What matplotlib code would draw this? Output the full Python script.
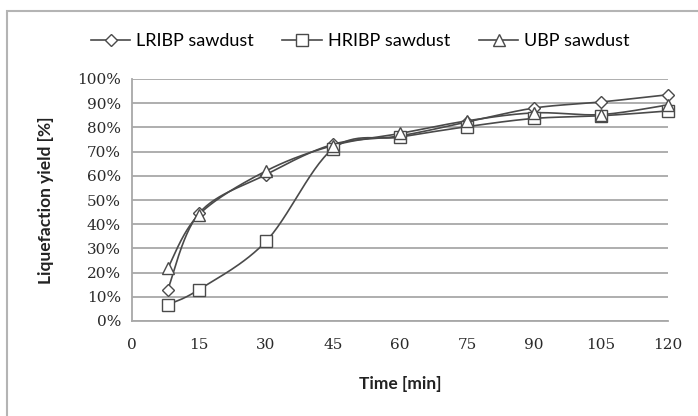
import numpy as np
import matplotlib
matplotlib.use("Agg")
import matplotlib.pyplot as plt
from matplotlib.patches import Rectangle

# data
time_min = [8, 15, 30, 45, 60, 75, 90, 105, 120]
lribp = [12.9, 44.5, 60.5, 73.0, 76.5, 82.2, 88.0, 90.5, 93.5]
hribp = [6.7, 13.0, 32.9, 71.2, 76.0, 80.3, 83.7, 84.8, 86.8]
ubp = [21.8, 44.0, 62.0, 72.5, 77.5, 82.7, 86.0, 85.3, 89.3]
series_names = ["LRIBP sawdust", "HRIBP sawdust", "UBP sawdust"]
series_markers = ["D", "s", "^"]
x_ticks = [0, 15, 30, 45, 60, 75, 90, 105, 120]
y_ticks = [0, 10, 20, 30, 40, 50, 60, 70, 80, 90, 100]


def smooth(xs, ys, sx, sy, n=30):
    # Excel-like smoothed line: Catmull-Rom bezier in screen-ish space
    p = np.column_stack([np.array(xs) * sx, np.array(ys) * sy])
    out = []
    for i in range(len(p) - 1):
        p0 = p[i - 1] if i > 0 else p[i]
        p1 = p[i]
        p2 = p[i + 1]
        p3 = p[i + 2] if i + 2 < len(p) else p[i + 1]
        c1 = p1 + (p2 - p0) / 6.0
        c2 = p2 - (p3 - p1) / 6.0
        t = np.linspace(0, 1, n)[:, None]
        seg = ((1 - t) ** 3) * p1 + 3 * ((1 - t) ** 2) * t * c1 + 3 * (1 - t) * t ** 2 * c2 + t ** 3 * p2
        out.append(seg if i == 0 else seg[1:])
    out = np.vstack(out)
    return out[:, 0] / sx, out[:, 1] / sy


fig = plt.figure(figsize=(6.98, 4.16), dpi=100)
ax = fig.add_axes([132 / 698, 1 - 321 / 416, 536 / 698, 242 / 416])

# chart border
fig.patches.append(Rectangle((6.5 / 698, -0.1), 1.2, 1 - 10.5 / 416 + 0.1,
                             transform=fig.transFigure, fill=False,
                             edgecolor="#b4b4b4", lw=1.5))

sx = 536 / 120.0
sy = 242 / 100.0
line_col = "#4a4a4a"
handles = []
for ys, mk, name in zip([lribp, hribp, ubp], series_markers, series_names):
    xs_s, ys_s = smooth(time_min, ys, sx, sy)
    ax.plot(xs_s, ys_s, color=line_col, lw=1.2, zorder=3, clip_on=False)
    ms = 6.5 if mk == "D" else 8
    ax.plot(time_min, ys, linestyle="none", marker=mk, markersize=ms,
            markerfacecolor="white", markeredgecolor=line_col, markeredgewidth=1.0,
            zorder=4, clip_on=False)
    h, = ax.plot([], [], color=line_col, lw=1.2, marker=mk, markersize=ms,
                 markerfacecolor="white", markeredgecolor=line_col, markeredgewidth=1.0)
    handles.append(h)

ax.set_xlim(0, 120)
ax.set_ylim(0, 100)
ax.set_xticks(x_ticks)
ax.set_yticks(y_ticks)
ax.set_yticklabels([f"{v}%" for v in y_ticks])
ax.yaxis.grid(True, color="#a8a8a8", lw=1.3)
ax.set_axisbelow(True)
ax.tick_params(length=0)
ax.tick_params(axis="y", pad=8)
ax.tick_params(axis="x", pad=12)
for lab in ax.get_xticklabels() + ax.get_yticklabels():
    lab.set_fontfamily("DejaVu Serif")
    lab.set_fontsize(11)
    lab.set_color("#2a2a2a")
for s in ["top", "right"]:
    ax.spines[s].set_visible(False)
for s in ["left", "bottom"]:
    ax.spines[s].set_color("#a8a8a8")
    ax.spines[s].set_linewidth(1.3)

fig.legend(handles, series_names, loc="center", bbox_to_anchor=(360 / 698, 1 - 41 / 416),
           ncol=3, frameon=False, handlelength=2.2, handletextpad=0.3, columnspacing=1.6,
           prop={"family": "Lato", "size": 13})

fig.text(46 / 698, 1 - 200 / 416, "Liquefaction yield [%]", rotation=90, ha="center", va="center",
         fontfamily="Lato", fontweight="bold", fontsize=12.5, color="#222222")
fig.text(400 / 698, 1 - 384 / 416, "Time [min]", ha="center", va="center",
         fontfamily="Lato", fontweight="bold", fontsize=12.5, color="#222222")

fig.savefig("out.png", dpi=100)
